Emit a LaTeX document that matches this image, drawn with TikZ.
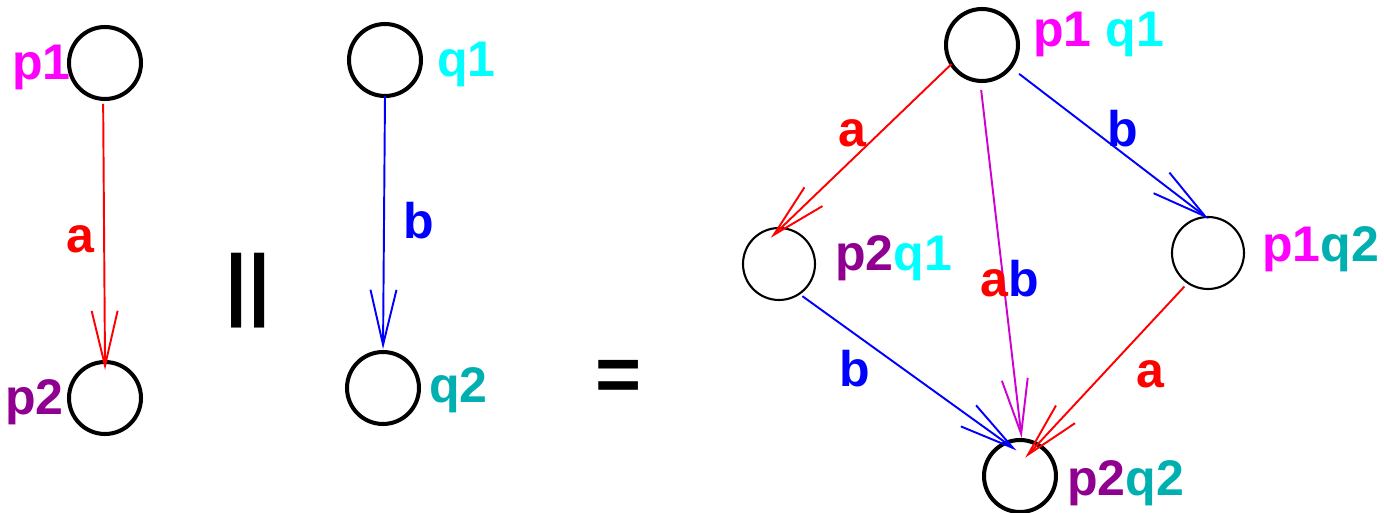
\documentclass[tikz,border=0pt]{standalone}
\usepackage{fontspec}
\setmainfont{Liberation Sans}
\usetikzlibrary{arrows.meta}

\definecolor{pone}{RGB}{255,0,255}
\definecolor{ptwo}{RGB}{144,0,144}
\definecolor{qone}{RGB}{0,255,255}
\definecolor{qtwo}{RGB}{0,176,176}
\definecolor{both}{RGB}{208,0,208}

\begin{document}
\begin{tikzpicture}[x=0.02cm, y=-0.02cm]
\tikzstyle{state} = [circle, draw=black, line width=2.3pt, minimum size=1.44cm, inner sep=0pt, outer sep=0pt]
\tikzstyle{thinstate} = [state, line width=1.2pt]
\tikzstyle{statelbl} = [anchor=base west, inner sep=0pt, font=\fontsize{28.5}{30}\selectfont\bfseries]
\tikzstyle{lbl} = [anchor=base, inner sep=0pt, font=\fontsize{28.5}{30}\selectfont\bfseries]
\tikzstyle{op} = [anchor=base, inner sep=0pt, font=\fontsize{45}{50}\selectfont\bfseries]
\tikzstyle{arrow} = [line width=1.1pt, -{Straight Barb[length=1.1cm, width=0.52cm]}]

\useasboundingbox (0,0) rectangle (1384,513);

% Process P
\node (p1) [state] at (105,63) {};
\node (p2) [state] at (105,398) {};
\node (p1lbl) [statelbl, pone] at (12,80) {p1};
\node (p2lbl) [statelbl, ptwo] at (5,415) {p2};
\draw [arrow, red, shorten <=0.1cm, shorten >=-0.16cm] (p1.267) -- (p2.north);
\node (alab) [lbl, red] at (80,253) {a};

\node (par) [op] at (248,311) {||};

% Process Q
\node (q1) [state] at (385,60) {};
\node (q2) [state] at (383,388) {};
\node (q1lbl) [statelbl, qone] at (437,77) {q1};
\node (q2lbl) [statelbl, qtwo] at (429,403) {q2};
\draw [arrow, blue, shorten >=0.06cm] (q1.south) -- (q2.north);
\node (blab) [lbl, blue] at (419,239) {b};

\node (eq) [op] at (619,401) {=};

% Product
\node (p1q1) [state] at (982,45) {};
\node (p2q1) [thinstate] at (779,264) {};
\node (p1q2) [thinstate] at (1208,253) {};
\node (p2q2) [state] at (1020,476) {};
\node (p1q1lbl) [statelbl] at (1033,47) {\textcolor{pone}{p1} \textcolor{qone}{q1}};
\node (p2q1lbl) [statelbl] at (835,271) {\textcolor{ptwo}{p2}\textcolor{qone}{q1}};
\node (p1q2lbl) [statelbl] at (1262,262) {\textcolor{pone}{p1}\textcolor{qtwo}{q2}};
\node (p2q2lbl) [statelbl] at (1067,496) {\textcolor{ptwo}{p2}\textcolor{qtwo}{q2}};

\draw [arrow, red, shorten >=-0.28cm] (p1q1.212) -- (p2q1.87);
\draw [arrow, blue, shorten <=0.22cm, shorten >=-0.06cm] (p1q1.322) -- (p1q2.93);
\draw [arrow, both, shorten <=0.18cm, shorten >=0.04cm] (p1q1.267) -- (p2q2.87);
\draw [arrow, blue, shorten <=0.08cm, shorten >=-0.26cm] (p2q1.304) -- (p2q2.113);
\draw [arrow, red, shorten <=0.1cm, shorten >=-0.36cm] (p1q2.236) -- (p2q2.61);

\node (a1) [lbl, red] at (852,147) {a};
\node (b1) [lbl, blue] at (1123,147) {b};
\node (ab) [lbl] at (1010,297) {\textcolor{red}{a}\textcolor{blue}{b}};
\node (b2) [lbl, blue] at (855,387) {b};
\node (a2) [lbl, red] at (1150,388) {a};

\end{tikzpicture}
\end{document}
